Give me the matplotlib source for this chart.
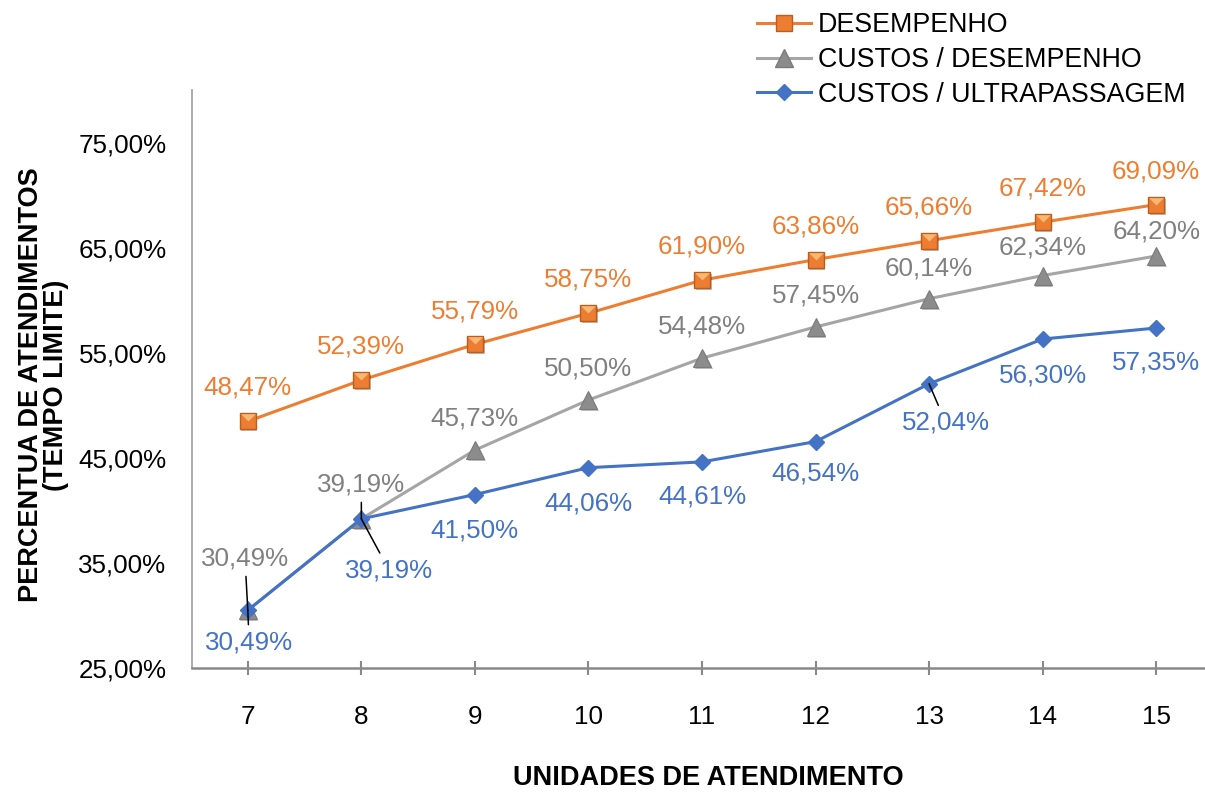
import matplotlib
matplotlib.use("Agg")
import matplotlib.pyplot as plt
import matplotlib.patheffects as pe
from matplotlib.lines import Line2D

plt.rcParams['font.family'] = ['Liberation Sans', 'DejaVu Sans']

unidades = [7, 8, 9, 10, 11, 12, 13, 14, 15]
desempenho = [48.47, 52.39, 55.79, 58.75, 61.90, 63.86, 65.66, 67.42, 69.09]
custos_desempenho = [30.49, 39.19, 45.73, 50.50, 54.48, 57.45, 60.14, 62.34, 64.20]
custos_ultrapassagem = [30.49, 39.19, 41.50, 44.06, 44.61, 46.54, 52.04, 56.30, 57.35]
y_ticks = [25, 35, 45, 55, 65, 75]

ORANGE = '#ED7D31'
ORANGE_DARK = '#B85E1E'
ORANGE_LIGHT = '#F9B774'
GRAY_LINE = '#A5A5A5'
GRAY_MARK = '#8C8C8C'
GRAY_TEXT = '#808080'
BLUE = '#4472C4'

def pct(v):
    return f"{v:.2f}%".replace('.', ',')

fig = plt.figure(figsize=(12.05, 7.92), dpi=100)
ax = fig.add_axes([0.159, 0.1566, 0.841, 0.7298])

shadow = [pe.SimplePatchShadow(offset=(1.2, -1.5), shadow_rgbFace='black', alpha=0.25), pe.Normal()]

# lines
ax.plot(unidades, desempenho, color=ORANGE, lw=2.2, zorder=3)
ax.plot(unidades, custos_desempenho, color=GRAY_LINE, lw=2.2, zorder=2)
ax.plot(unidades, custos_ultrapassagem, color=BLUE, lw=2.2, zorder=4)

# markers
half_tri = [(-1, 1), (1, 1), (0, 0), (-1, 1)]
ax.plot(unidades, custos_desempenho, ls='none', marker='^', ms=13, mfc=GRAY_MARK,
        mec='#7A7A7A', mew=0.8, zorder=2.5, path_effects=shadow)
ax.plot(unidades, desempenho, ls='none', marker='s', ms=11.5, mfc=ORANGE,
        mec=ORANGE_DARK, mew=1.0, zorder=3.5, path_effects=shadow)
ax.plot(unidades, desempenho, ls='none', marker=half_tri, ms=10.5, mfc=ORANGE_LIGHT,
        mec='none', zorder=3.6)
ax.plot(unidades, custos_ultrapassagem, ls='none', marker='D', ms=8, mfc=BLUE,
        mec=BLUE, zorder=4.5)

# data labels (offsets in points)
lbl_size = 18.7
off_orange = [(0, 24)] * 9
off_gray = [(-2, 37), (0, 24.5), (0, 23), (0, 22.5), (0, 22.5), (0, 22.5), (0, 22), (0, 20.5), (0, 17.5)]
off_blue = [(1, -23), (20, -37), (0, -26), (0, -26), (0, -25), (0, -23), (12, -28), (0, -26), (0, -25)]
leader_gray = [True, True, False, False, False, False, False, False, False]
leader_blue = [True, True, False, False, False, False, True, False, False]

lead = dict(arrowstyle='-', color='black', lw=1.1, shrinkA=2, shrinkB=0)
for i, x in enumerate(unidades):
    ax.annotate(pct(desempenho[i]), (x, desempenho[i]), xytext=off_orange[i],
                textcoords='offset points', ha='center', va='center',
                fontsize=lbl_size, color=ORANGE, zorder=6)
    ax.annotate(pct(custos_desempenho[i]), (x, custos_desempenho[i]), xytext=off_gray[i],
                textcoords='offset points', ha='center', va='center',
                fontsize=lbl_size, color=GRAY_TEXT, zorder=6,
                arrowprops=lead if leader_gray[i] else None)
    ax.annotate(pct(custos_ultrapassagem[i]), (x, custos_ultrapassagem[i]), xytext=off_blue[i],
                textcoords='offset points', ha='center', va='center',
                fontsize=lbl_size, color=BLUE, zorder=6,
                arrowprops=lead if leader_blue[i] else None)

# axes
ax.set_xlim(6.505, 15.43)
ax.set_ylim(25, 80)
ax.set_xticks(unidades)
ax.set_xticklabels([str(u) for u in unidades])
ax.set_yticks(y_ticks)
ax.set_yticklabels([pct(v) for v in y_ticks])
ax.tick_params(axis='x', direction='inout', length=10, width=1.5, color='#898989',
               pad=22, labelsize=lbl_size)
ax.tick_params(axis='y', length=0, pad=18, labelsize=lbl_size)
for s in ['top', 'right']:
    ax.spines[s].set_visible(False)
ax.spines['left'].set_color('#A6A6A6')
ax.spines['left'].set_linewidth(1.3)
ax.spines['bottom'].set_color('#898989')
ax.spines['bottom'].set_linewidth(1.8)

fig.text(0.588, 0.0177, 'UNIDADES DE ATENDIMENTO', ha='center', va='center',
         fontsize=19.5, fontweight='bold')
fig.text(0.036, 0.514, 'PERCENTUA DE ATENDIMENTOS\n(TEMPO LIMITE)', ha='center', va='center',
         rotation=90, fontsize=19.5, fontweight='bold', linespacing=0.95)

# legend
handles = [
    Line2D([], [], color=ORANGE, lw=2.2, marker='s', ms=11.5, mfc=ORANGE, mec=ORANGE_DARK),
    Line2D([], [], color=GRAY_LINE, lw=2.2, marker='^', ms=13, mfc=GRAY_MARK, mec='#7A7A7A'),
    Line2D([], [], color=BLUE, lw=2.2, marker='D', ms=8, mfc=BLUE, mec=BLUE),
]
labels = ['DESEMPENHO', 'CUSTOS / DESEMPENHO', 'CUSTOS / ULTRAPASSAGEM']
fig.legend(handles, labels, loc='upper left', bbox_to_anchor=(0.613, 1.008),
           frameon=False, fontsize=19.3, handlelength=2.0, handletextpad=0.25,
           labelspacing=0.32, borderpad=0.2)

fig.savefig('out.png', dpi=100)
